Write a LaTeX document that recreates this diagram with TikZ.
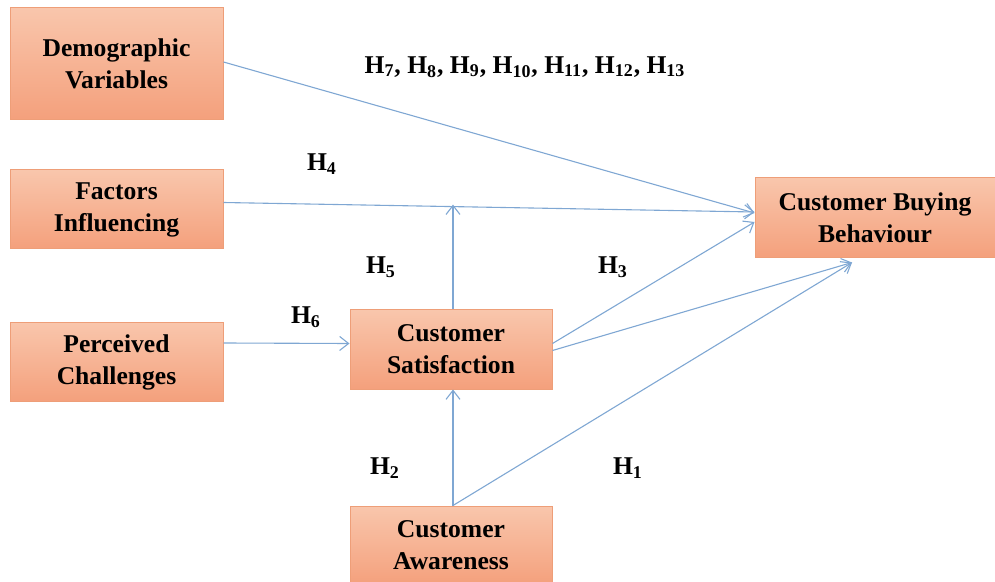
\documentclass[tikz,border=0pt]{standalone}
\usepackage{fontspec}
\setmainfont{Liberation Serif}
\usepackage{tikz}
\usetikzlibrary{calc}
\usetikzlibrary{arrows.meta}
\definecolor{color_top}{HTML}{F9C6AC}
\definecolor{color_bottom}{HTML}{F4A07C}
\definecolor{color_border}{HTML}{EE9E78}
\definecolor{color_link}{HTML}{7FA7D3}

\begin{document}
\begin{tikzpicture}[x=0.5pt, y=-0.5pt, align=center, font=\fontsize{12.8}{16}\selectfont\bfseries]
  \tikzset{ % Specifications for style of nodes and links:
      base/.style = {rectangle, draw=color_border, line width=0.5pt, top color=color_top, bottom color=color_bottom, minimum width=106.5pt, minimum height=39.5pt, inner sep=0pt, text centered},
      small/.style = {base, minimum width=101pt},
      wide/.style = {base, minimum width=120pt, minimum height=40pt},
      hyp/.style = {inner sep=0pt},
      link/.style = {draw=color_link, line width=0.55pt, -{Straight Barb[length=4.5pt, width=7pt, line width=0.55pt]}},
  }
  \useasboundingbox (0,0) rectangle (995,582);
  \node (demo) [base, minimum height=56pt] at (116.5,64) {Demographic\\Variables};
  \node (factors) [base] at (116.5,209.5) {Factors\\Influencing};
  \node (perceived) [base] at (116.5,362) {Perceived\\Challenges};
  \node (sat) [small] at (451,349.5) {Customer\\Satisfaction};
  \node (aware) [small] at (451,545.5) {Customer\\Awareness};
  \node (cbb) [wide] at (875,218) {Customer Buying\\Behaviour};

  \node (h7) [hyp] at (525,67) {H\textsubscript{7}, H\textsubscript{8}, H\textsubscript{9}, H\textsubscript{10}, H\textsubscript{11}, H\textsubscript{12}, H\textsubscript{13}};
  \node (h4) [hyp] at (322,164) {H\textsubscript{4}};
  \node (h5) [hyp] at (381,267) {H\textsubscript{5}};
  \node (h6) [hyp] at (306,317) {H\textsubscript{6}};
  \node (h3) [hyp] at (613,267) {H\textsubscript{3}};
  \node (h2) [hyp] at (385,468) {H\textsubscript{2}};
  \node (h1) [hyp] at (628,468) {H\textsubscript{1}};

  \coordinate (fstart) at ($(factors.east)+(0,-7)$);
  \coordinate (fend) at ($(cbb.west)+(0,-6)$);
  \coordinate (ftip) at ($(fstart)!(sat.north)!(fend)$);
  \coordinate (low) at ($(cbb.south)+(-23,4)$);

  \draw[link] ($(demo.east)+(0,-2)$) -- ($(cbb.west)+(0,-5)$);
  \draw[link] (fstart) -- (fend);
  \draw[link] ($(sat.north)+(2,0)$) -- ($(sat.north |- ftip)+(2,-2)$);
  \draw[link] ($(perceived.east)+(0,-19)$) -- ($(sat.west)+(0,-6)$);
  \draw[link] ($(sat.east)+(0,-6)$) -- ($(cbb.west)+(0,4)$);
  \draw[link] ($(sat.east)+(0,1)$) -- (low);
  \draw[link] ($(aware.north)+(2,0)$) -- ($(sat.south)+(2,0)$);
  \draw[link] ($(aware.north)+(2,0)$) -- (low);
\end{tikzpicture}
\end{document}
